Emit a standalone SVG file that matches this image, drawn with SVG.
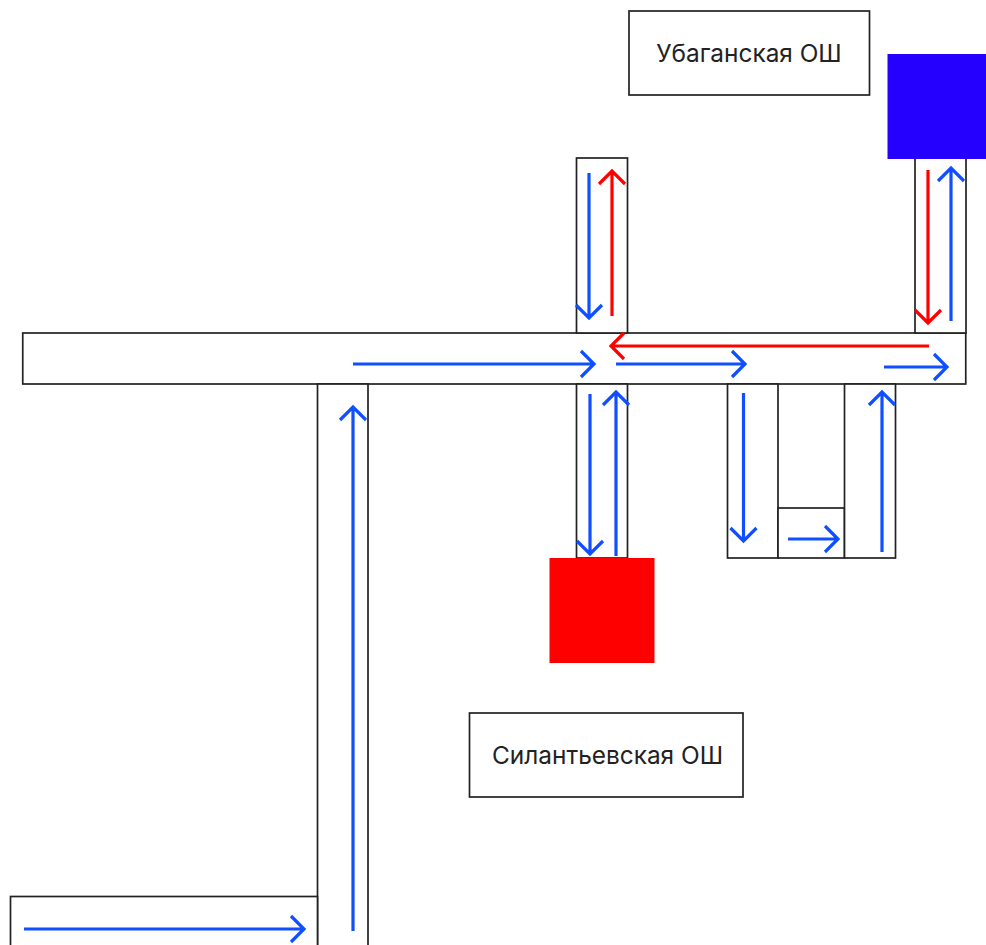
<svg xmlns="http://www.w3.org/2000/svg" width="986" height="945" viewBox="0 0 986 945">
<style>
.road{fill:#fff;stroke:#222;stroke-width:1.7}
.a{fill:none;stroke-width:3.2;stroke-linecap:butt;stroke-linejoin:miter}
.b{stroke:#0f4fff}
.r{stroke:#ff0000}
text{font-family:"Inter","Liberation Sans",sans-serif;font-size:24.4px;fill:#222;text-anchor:middle}
</style>
<rect width="986" height="945" fill="#fff"/>
<g id="road-main"><rect class="road" x="22.75" y="333" width="943" height="51"/></g>
<g id="road-top-left"><rect class="road" x="576.5" y="158" width="51" height="175"/></g>
<g id="road-top-right"><rect class="road" x="915" y="158" width="51" height="175"/></g>
<g id="road-south-left"><rect class="road" x="317.500" y="384" width="50.500" height="570"/></g>
<g id="road-bottom"><rect class="road" x="10.5" y="896.5" width="307" height="60"/></g>
<g id="road-south-mid"><rect class="road" x="576.5" y="384" width="51" height="174"/></g>
<g id="road-loop-left"><rect class="road" x="727.5" y="384" width="50.5" height="174"/></g>
<g id="road-loop-mid"><rect class="road" x="778" y="508" width="66.500" height="50"/></g>
<g id="road-loop-right"><rect class="road" x="844.500" y="384" width="51" height="174"/></g>
<g id="red-square"><rect x="549.5" y="558" width="105" height="105" fill="#ff0000"/></g>
<g id="blue-square"><rect x="887.500" y="54" width="98.500" height="105" fill="#2600ff"/></g>
<g id="label-ubagan"><rect class="road" x="629" y="11" width="240.5" height="84"/><text x="749" y="62">Убаганская ОШ</text></g>
<g id="label-silant"><rect class="road" x="469.5" y="713" width="273.5" height="84"/><text x="607.500" y="764">Силантьевская ОШ</text></g>
<g id="connectors">
<path class="a b" d="M24 929H304M291 916L304 929L291 942"/>
<path class="a b" d="M353 931V407M340 420L353 407L366 420"/>
<path class="a b" d="M353 364H594M581 351L594 364L581 377"/>
<path class="a b" d="M616 364H745M732 351L745 364L732 377"/>
<path class="a b" d="M884 367H947M934 354L947 367L934 380"/>
<path class="a b" d="M589 173V318M576 305L589 318L602 305"/>
<path class="a r" d="M612 316V171M599 184L612 171L625 184"/>
<path class="a r" d="M928 170V323M915 310L928 323L941 310"/>
<path class="a b" d="M951 321V168M938 181L951 168L964 181"/>
<path class="a r" d="M929 346H611M624 333L611 346L624 359"/>
<path class="a b" d="M590 394V554M577 541L590 554L603 541"/>
<path class="a b" d="M616 556V392M603 405L616 392L629 405"/>
<path class="a b" d="M743.500 393V541M730.500 528L743.500 541L756.500 528"/>
<path class="a b" d="M882 552V392M869 405L882 392L895 405"/>
<path class="a b" d="M788 539H838M825 526L838 539L825 552"/>
</g>
</svg>
